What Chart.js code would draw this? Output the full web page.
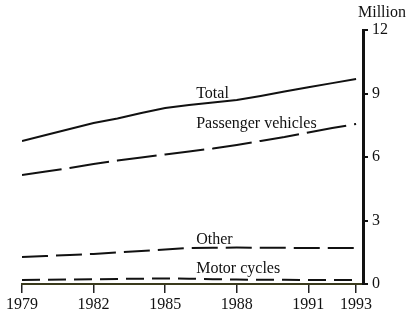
<!DOCTYPE html>
<html>
<head>
<meta charset="utf-8">
<script src="https://cdn.jsdelivr.net/npm/chart.js@4/dist/chart.umd.min.js"></script>
<style>
  html, body { margin: 0; padding: 0; background: #fff; }
  canvas { display: block; }
</style>
</head>
<body>
<canvas id="c" width="410" height="326"></canvas>
<script>
const years = [1979,1980,1981,1982,1983,1984,1985,1986,1987,1988,1989,1990,1991,1992,1993];
const total = [6.75,7.04,7.32,7.61,7.82,8.08,8.31,8.46,8.57,8.69,8.88,9.09,9.30,9.49,9.68];
const passenger = [5.15,5.31,5.48,5.67,5.83,5.98,6.12,6.26,6.40,6.57,6.76,6.94,7.16,7.37,7.56];
const other = [1.28,1.32,1.37,1.42,1.49,1.56,1.63,1.70,1.71,1.72,1.71,1.71,1.70,1.70,1.70];
const motor = [0.19,0.20,0.21,0.22,0.24,0.25,0.26,0.25,0.23,0.21,0.20,0.20,0.19,0.19,0.19];
const xTicks = [1979,1982,1985,1988,1991,1993];
const yTicks = [0,3,6,9,12];
const unitLabel = 'Million';
const seriesNames = ['Total','Passenger vehicles','Other','Motor cycles'];
// label anchors in data units (year, value)
const labelYears = [1986.3,1986.3,1986.3,1986.3];
const labelValues = [8.97,7.56,2.08,0.71];

const serif = '"Liberation Serif", "Times New Roman", serif';
const ink = '#111';

function pts(arr){ return years.map((y,i)=>({x:y,y:arr[i]})); }

const labelPlugin = {
  id: 'seriesLabels',
  afterDraw(chart){
    const ctx = chart.ctx;
    const xs = chart.scales.x, ys = chart.scales.y;
    ctx.save();
    ctx.fillStyle = ink;
    ctx.font = '16px ' + serif;
    ctx.textAlign = 'left';
    ctx.textBaseline = 'middle';
    seriesNames.forEach((n,i)=>{
      ctx.fillText(n, xs.getPixelForValue(labelYears[i]), ys.getPixelForValue(labelValues[i]));
    });
    ctx.textAlign = 'center';
    ctx.fillText(unitLabel, ys.left + 19, 13);
    ctx.restore();
  }
};

new Chart(document.getElementById('c'), {
  type: 'line',
  data: {
    datasets: [
      { label: seriesNames[0], data: pts(total), borderColor: ink, borderWidth: 2, pointRadius: 0, tension: 0 },
      { label: seriesNames[1], data: pts(passenger), borderColor: ink, borderWidth: 2, borderDash: [40,8], pointRadius: 0, tension: 0 },
      { label: seriesNames[2], data: pts(other), borderColor: ink, borderWidth: 2, borderDash: [26,8], pointRadius: 0, tension: 0 },
      { label: seriesNames[3], data: pts(motor), borderColor: ink, borderWidth: 2, borderDash: [18,8], pointRadius: 0, tension: 0 }
    ]
  },
  options: {
    responsive: false,
    animation: false,
    layout: { padding: { left: 22, top: 30, right: 0, bottom: 0 } },
    plugins: { legend: { display: false }, tooltip: { enabled: false } },
    scales: {
      x: {
        type: 'linear',
        min: 1979,
        max: 1993.29,
        afterBuildTicks(s){ s.ticks = xTicks.map(v=>({value:v})); },
        afterFit(s){ s.height = 42; },
        grid: { drawOnChartArea: false, drawTicks: true, tickLength: 9, color: '#222', lineWidth: 1.5 },
        border: { display: true, color: '#3a3a1c', width: 2 },
        ticks: { color: ink, font: { family: serif, size: 16 }, padding: 2, maxRotation: 0, autoSkip: false,
                 callback: v => String(v) }
      },
      y: {
        position: 'right',
        min: 0,
        max: 12,
        afterBuildTicks(s){ s.ticks = yTicks.map(v=>({value:v})); },
        afterFit(s){ s.width = 47; },
        grid: { drawOnChartArea: false, drawTicks: true, tickLength: 5, color: ink, lineWidth: 2 },
        border: { display: true, color: ink, width: 3 },
        ticks: { color: ink, font: { family: serif, size: 16 }, padding: 4 }
      }
    }
  },
  plugins: [labelPlugin]
});
</script>
</body>
</html>
